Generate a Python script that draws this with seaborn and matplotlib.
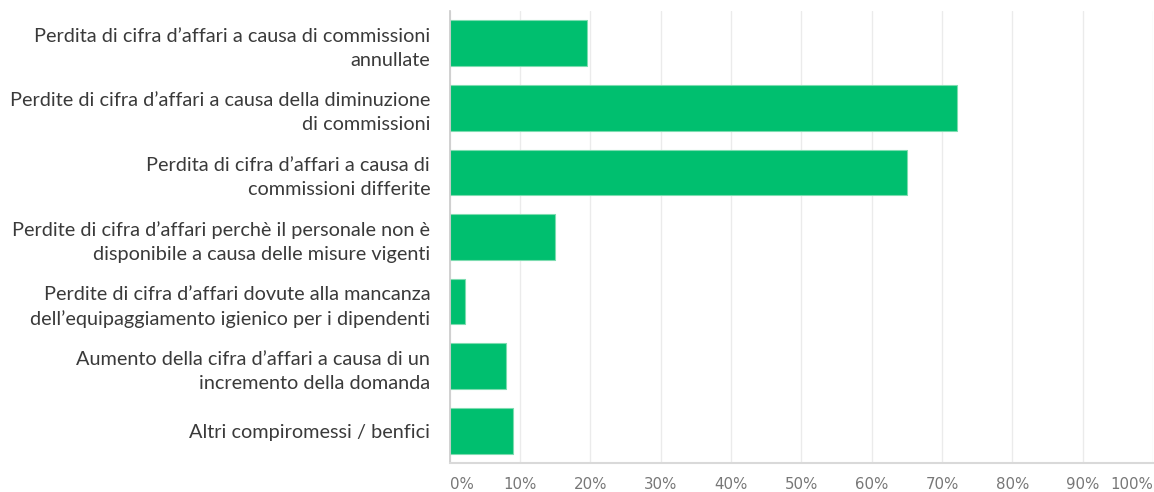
import matplotlib
matplotlib.use("Agg")
import matplotlib.pyplot as plt
import seaborn as sns
import pandas as pd

categories = [
    "Perdita di cifra d’affari a causa di commissioni\nannullate",
    "Perdite di cifra d’affari a causa della diminuzione\ndi commissioni",
    "Perdita di cifra d’affari a causa di\ncommissioni differite",
    "Perdite di cifra d’affari perchè il personale non è\ndisponibile a causa delle misure vigenti",
    "Perdite di cifra d’affari dovute alla mancanza\ndell’equipaggiamento igienico per i dipendenti",
    "Aumento della cifra d’affari a causa di un\nincremento della domanda",
    "Altri compiromessi / benfici",
]
values = [19.5, 72.1, 65.0, 15.0, 2.2, 8.0, 9.0]
tick_values = [0, 10, 20, 30, 40, 50, 60, 70, 80, 90, 100]
tick_labels = [f"{t}%" for t in tick_values]

sns.set_theme(style="white")
plt.rcParams["font.family"] = ["Lato", "DejaVu Sans"]

df = pd.DataFrame({"risposta": categories, "percentuale": values})

fig = plt.figure(figsize=(11.54, 4.92), dpi=100)
ax = fig.add_axes([0.3896, 0.059, 0.6095, 0.9185])

sns.barplot(
    data=df,
    x="percentuale",
    y="risposta",
    order=categories,
    color="#00bf6f",
    saturation=1,
    width=0.71,
    edgecolor="#7ddcb0",
    linewidth=0.8,
    ax=ax,
)

ax.set_xlim(0, 100)
ax.set_ylim(6.5, -0.5)
ax.set_xlabel("")
ax.set_ylabel("")
ax.set_xticks(tick_values)
ax.set_xticklabels(tick_labels, color="#777777", fontsize=10.8, family="DejaVu Sans")
labels = ax.get_xticklabels()
labels[0].set_ha("left")
labels[-1].set_ha("right")
ax.tick_params(axis="x", length=0, pad=10)
ax.tick_params(axis="y", length=0, pad=14, labelsize=14.3, labelcolor="#3a3a3a")
for lab in ax.get_yticklabels():
    lab.set_linespacing(1.5)

ax.grid(axis="x", color="#ebebeb", linewidth=1)
ax.set_axisbelow(True)
for side in ["top", "right"]:
    ax.spines[side].set_visible(False)
ax.spines["left"].set_color("#cccccc")
ax.spines["bottom"].set_color("#d9d9d9")
ax.spines["bottom"].set_linewidth(1.5)

fig.savefig("out.png", dpi=100)
